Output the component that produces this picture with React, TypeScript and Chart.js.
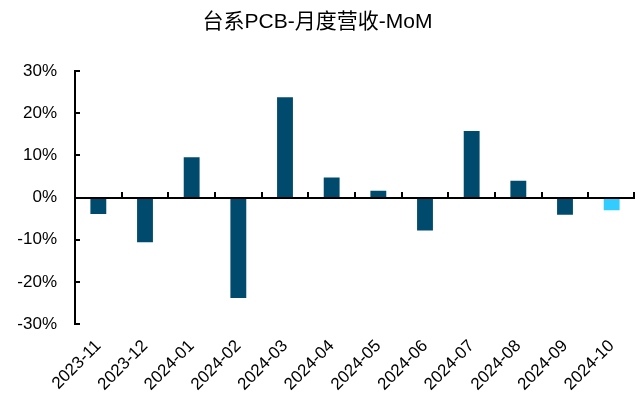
import React, { useEffect, useRef } from "react";
import { Chart, registerables } from "chart.js";

Chart.register(...registerables);

const categories = [
  "2023-11", "2023-12", "2024-01", "2024-02", "2024-03", "2024-04",
  "2024-05", "2024-06", "2024-07", "2024-08", "2024-09", "2024-10",
];
const momValues = [-3.9, -10.6, 9.6, -23.8, 23.8, 4.8, 1.6, -7.8, 15.8, 4.0, -4.1, -3.0];
const barColors = [
  "#004A6E", "#004A6E", "#004A6E", "#004A6E", "#004A6E", "#004A6E",
  "#004A6E", "#004A6E", "#004A6E", "#004A6E", "#004A6E", "#33CCFF",
];
const yMin = -30;
const yMax = 30;
const yStep = 10;
const titleText = "台系PCB-月度营收-MoM";

const FONT = "'Liberation Sans', Arial, 'Noto Sans CJK SC', sans-serif";

const axesPlugin = {
  id: "excelAxes",
  afterDatasetsDraw(chart: any) {
    const { ctx, chartArea, scales } = chart;
    const y = scales.y;
    ctx.save();
    ctx.strokeStyle = "#000";
    ctx.lineWidth = 2;
    const left = Math.round(chartArea.left);
    ctx.beginPath();
    ctx.moveTo(left, y.getPixelForValue(yMax));
    ctx.lineTo(left, y.getPixelForValue(yMin));
    ctx.stroke();
    for (let v = yMin; v <= yMax; v += yStep) {
      const py = Math.round(y.getPixelForValue(v));
      ctx.beginPath();
      ctx.moveTo(left - 1, py);
      ctx.lineTo(left + 5, py);
      ctx.stroke();
    }
    const zy = Math.round(y.getPixelForValue(0));
    ctx.beginPath();
    ctx.moveTo(left, zy);
    ctx.lineTo(chartArea.right, zy);
    ctx.stroke();
    const n = categories.length;
    const w = (chartArea.right - chartArea.left) / n;
    for (let i = 1; i <= n; i++) {
      const px = Math.round(chartArea.left + i * w) - (i === n ? 1 : 0);
      ctx.beginPath();
      ctx.moveTo(px, zy);
      ctx.lineTo(px, zy - 6);
      ctx.stroke();
    }
    ctx.restore();
  },
};

export default function App() {
  const canvasRef = useRef<HTMLCanvasElement>(null);

  useEffect(() => {
    if (!canvasRef.current) return;
    const chart = new Chart(canvasRef.current, {
      type: "bar",
      data: {
        labels: categories,
        datasets: [
          {
            data: momValues,
            backgroundColor: barColors,
            borderWidth: 0,
            barPercentage: 0.34,
            categoryPercentage: 1,
          },
        ],
      },
      options: {
        animation: false,
        responsive: true,
        maintainAspectRatio: false,
        layout: { padding: { left: 0, right: 8, top: 0, bottom: 0 } },
        plugins: {
          legend: { display: false },
          tooltip: { enabled: false },
          title: {
            display: true,
            text: titleText,
            color: "#000",
            font: { family: FONT, size: 21, weight: "normal", lineHeight: 1.2 },
            padding: { top: 10, bottom: 36 },
          },
        },
        scales: {
          x: {
            offset: true,
            grid: { display: false, drawTicks: false },
            border: { display: false },
            ticks: {
              color: "#000",
              font: { family: FONT, size: 17 },
              minRotation: 45,
              maxRotation: 45,
              autoSkip: false,
              padding: 12,
            },
            afterFit(scale: any) {
              scale.height = 82;
            },
          },
          y: {
            min: yMin,
            max: yMax,
            grid: { display: false, drawTicks: false },
            border: { display: false },
            ticks: {
              stepSize: yStep,
              color: "#000",
              font: { family: FONT, size: 17 },
              padding: 18,
              callback: (v: any) => `${v}%`,
            },
            afterFit(scale: any) {
              scale.width = 75;
            },
          },
        },
      },
      plugins: [axesPlugin],
    });
    return () => chart.destroy();
  }, []);

  return (
    <div style={{ position: "fixed", left: 0, top: 0, width: 643, height: 406, background: "#fff" }}>
      <canvas ref={canvasRef} />
    </div>
  );
}
